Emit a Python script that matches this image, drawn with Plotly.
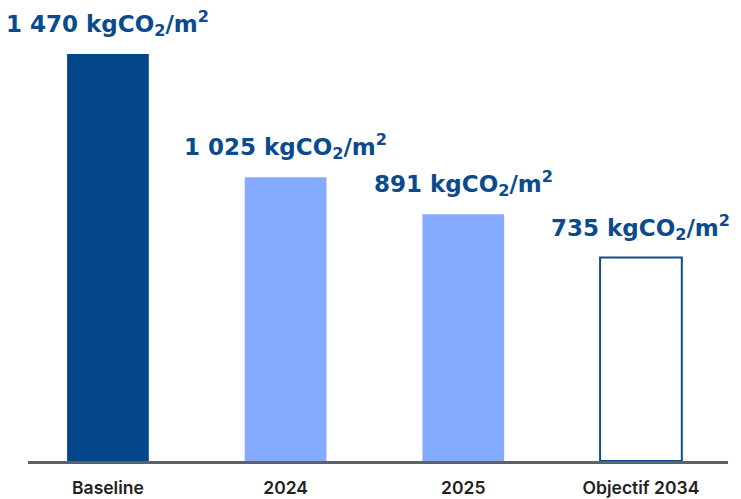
import plotly.graph_objects as go

categories = ["Baseline", "2024", "2025", "Objectif 2034"]
values = [1470, 1025, 891, 735]
value_labels = ["1 470", "1 025", "891", "735"]

dark_blue = "#03468a"
light_blue = "#84abff"
label_color = "#0b4a8c"

fill_colors = [dark_blue, light_blue, light_blue, "#ffffff"]
line_colors = [dark_blue, light_blue, light_blue, "#0d4a8e"]
line_widths = [0, 0, 0, 2]

fig = go.Figure(
    go.Bar(
        x=categories,
        y=values,
        width=0.46,
        marker=dict(color=fill_colors, line=dict(color=line_colors, width=line_widths)),
        hoverinfo="skip",
    )
)

# value labels above each bar (positioned by category index)
for idx, (val, lab) in enumerate(zip(values, value_labels)):
    fig.add_annotation(
        x=idx,
        y=val,
        xref="x",
        yref="y",
        text=f"<b>{lab} kgCO<sub>2</sub>/m<sup>2</sup></b>",
        showarrow=False,
        yanchor="bottom",
        yshift=12,
        font=dict(family="DejaVu Sans, sans-serif", size=23, color=label_color),
    )

fig.update_layout(
    width=741,
    height=499,
    margin=dict(l=28, r=13, t=0, b=38),
    plot_bgcolor="white",
    paper_bgcolor="white",
    showlegend=False,
    xaxis=dict(
        type="category",
        range=[-0.45, 3.49],
        showline=True,
        linecolor="#5a6369",
        linewidth=2.5,
        ticks="",
        showgrid=False,
        automargin=False,
        tickfont=dict(family="Inter, Roboto, sans-serif", size=17.5, color="#222222", weight=600),
        ticklabelstandoff=9,
    ),
    yaxis=dict(
        range=[0, 1665],
        visible=False,
        showgrid=False,
        automargin=False,
    ),
)

fig.write_html("out.html")
